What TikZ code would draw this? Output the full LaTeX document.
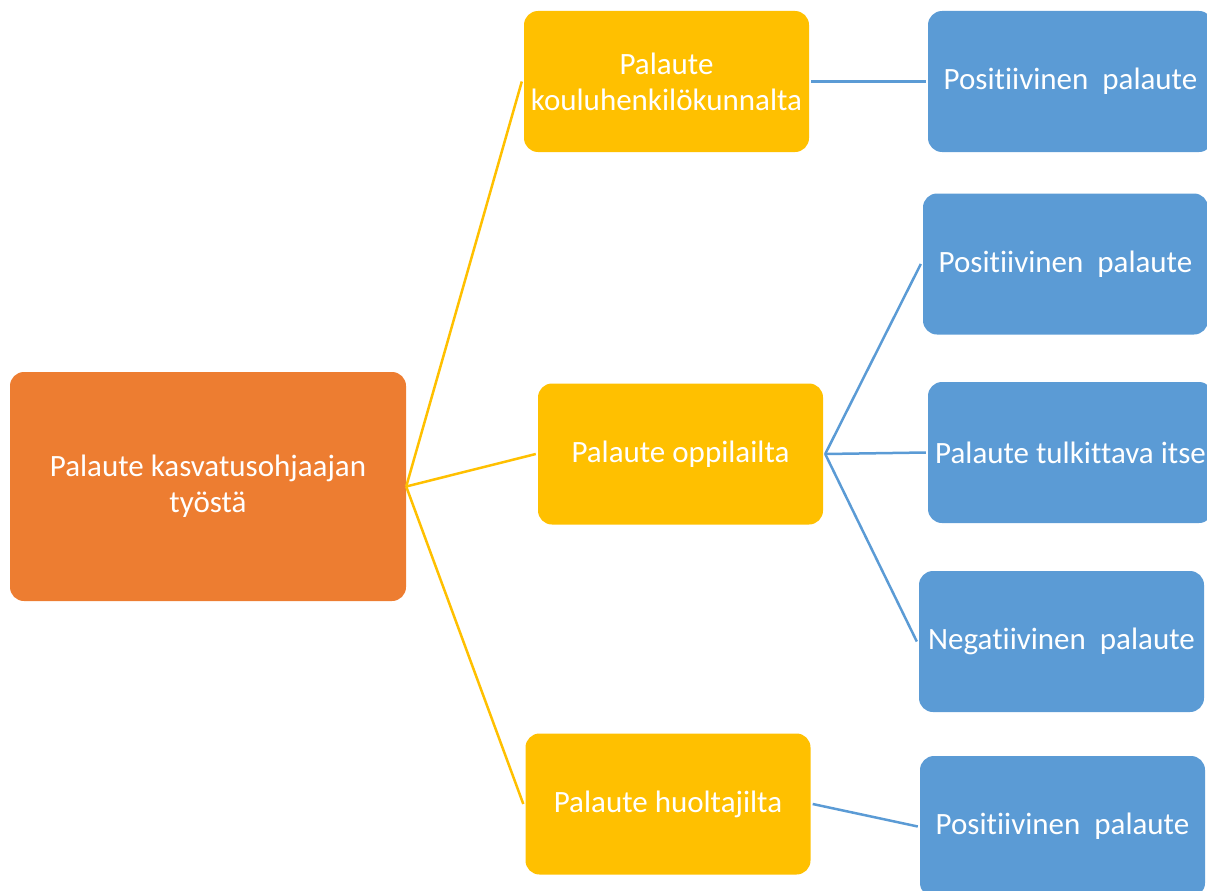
\documentclass[tikz,border=0pt]{standalone}
\usepackage{fontspec}
\setmainfont{Carlito}[Ligatures=NoCommon]
\definecolor{orangebox}{HTML}{ED7D31}
\definecolor{yellowbox}{HTML}{FFC000}
\definecolor{bluebox}{HTML}{5B9BD5}
\begin{document}
\begin{tikzpicture}[x=1pt,y=-1pt,
  box/.style={rectangle,rounded corners=14pt,text=white,align=center,
    font=\fontsize{31}{36}\selectfont,inner sep=0pt,minimum width=285pt,minimum height=141pt},
  rootbox/.style={box,fill=orangebox,minimum width=396pt,minimum height=229pt},
  midbox/.style={box,fill=yellowbox},
  leafbox/.style={box,fill=bluebox},
  yline/.style={draw=yellowbox,line width=2.5pt},
  bline/.style={draw=bluebox,line width=2.5pt}]
\useasboundingbox (0,0) rectangle (1207,891);
\clip (0,0) rectangle (1207,891);
\node[rootbox] (root) at (208,486.5) {Palaute kasvatusohjaajan\\työstä};
\node[midbox] (m1) at (666.5,81.5) {Palaute\\kouluhenkilökunnalta};
\node[midbox] (m2) at (680.5,454) {Palaute oppilailta};
\node[midbox] (m3) at (668,804) {Palaute huoltajilta};
\node[leafbox] (l1) at (1070.5,81.5) {Positiivinen\ \ palaute};
\node[leafbox] (l2) at (1065.5,264) {Positiivinen\ \ palaute};
\node[leafbox] (l3) at (1070.5,452.5) {Palaute tulkittava itse};
\node[leafbox] (l4) at (1061.5,641.5) {Negatiivinen\ \ palaute};
\node[leafbox] (l5) at (1062.5,826.5) {Positiivinen\ \ palaute};
\draw[yline] (root.east) -- ([xshift=-2pt]m1.west);
\draw[yline] (root.east) -- ([xshift=-2pt]m2.west);
\draw[yline] (root.east) -- ([xshift=-2pt]m3.west);
\draw[bline] ([xshift=2pt]m1.east) -- ([xshift=-2pt]l1.west);
\draw[bline] ([xshift=2pt]m2.east) -- ([xshift=-2pt]l2.west);
\draw[bline] ([xshift=2pt]m2.east) -- ([xshift=-2pt]l3.west);
\draw[bline] ([xshift=2pt]m2.east) -- ([xshift=-2pt]l4.west);
\draw[bline] ([xshift=2pt]m3.east) -- ([xshift=-2pt]l5.west);
\end{tikzpicture}
\end{document}
